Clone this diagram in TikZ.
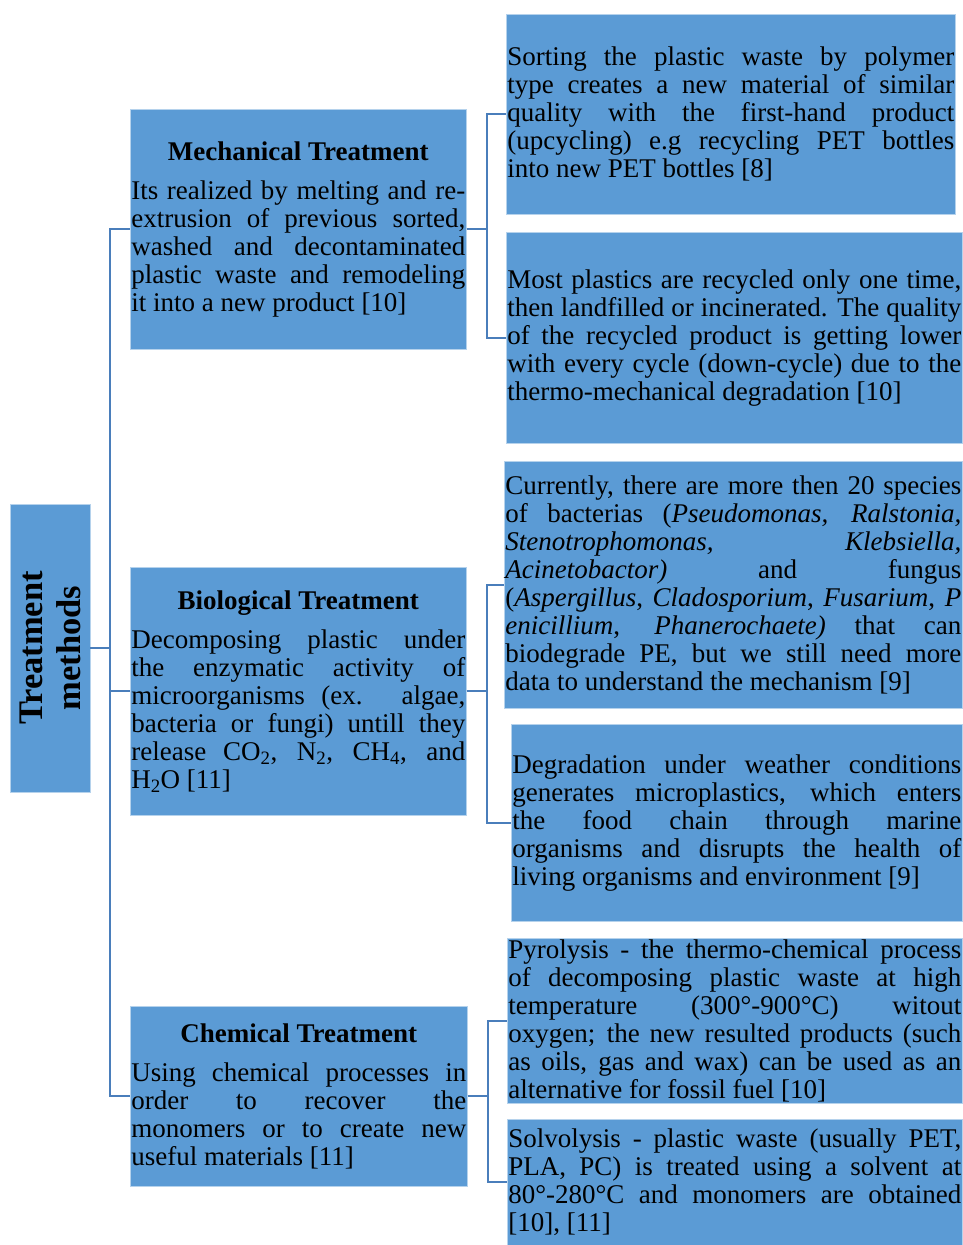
\documentclass[tikz,border=0pt]{standalone}
\usepackage{fontspec}
\setmainfont{Liberation Serif}
\usetikzlibrary{positioning}
\definecolor{boxblue}{RGB}{91,155,213}
\definecolor{lineblue}{RGB}{74,126,187}
\setlength{\parindent}{0pt}
\hyphenpenalty=10000
\tolerance=9999
\hbadness=10000

\newcommand{\trtitle}[1]{{\centering\bfseries #1\par}\vspace{11pt}}

\begin{document}
\begin{tikzpicture}[x=1pt,y=-1pt,
	box/.style={fill=boxblue,draw=boxblue!45!white,line width=.6pt,anchor=north west,
		inner xsep=1pt,inner ysep=0pt,align=justify,font=\fontsize{27}{28}\selectfont},
	link/.style={draw=lineblue,line width=2pt}]
	\useasboundingbox (0,0) rectangle (963,1245);
	%% root
	\node[box,anchor=center,rotate=90,align=center,minimum width=288pt,minimum height=80pt,
		font=\fontsize{34.5}{38}\selectfont\bfseries] (tm) at (50,648) {Treatment\\methods};
	%% left column
	\node[box,minimum width=336pt,minimum height=240pt,text width=334pt] (mt) at (130,109) {\trtitle{Mechanical Treatment}%
		Its realized by melting and re-\linebreak extrusion of previous sorted,\linebreak washed and decontaminated\linebreak plastic waste and remodeling\linebreak it into a new product [10]};
	\node[box,minimum width=336pt,minimum height=248pt,text width=334pt] (bt) at (130,567) {\trtitle{Biological Treatment}%
		Decomposing plastic under\linebreak the enzymatic activity of\linebreak microorganisms (ex. algae,\linebreak bacteria or fungi) untill they\linebreak release CO\textsubscript{2}, N\textsubscript{2}, CH\textsubscript{4}, and\linebreak H\textsubscript{2}O [11]};
	\node[box,minimum width=337pt,minimum height=180pt,text width=335pt] (ct) at (130,1006) {\trtitle{Chemical Treatment}%
		Using chemical processes in\linebreak order to recover the\linebreak monomers or to create new\linebreak useful materials [11]};
	%% right column
	\node[box,minimum width=449pt,minimum height=200pt,text width=447pt] (mt1) at (506,14) {Sorting the plastic waste by polymer\linebreak type creates a new material of similar\linebreak quality with the first-hand product\linebreak (upcycling) e.g recycling PET bottles\linebreak into new PET bottles [8]};
	\node[box,minimum width=456pt,minimum height=211pt,text width=454pt] (mt2) at (506,232) {Most plastics are recycled only one time,\linebreak then landfilled or incinerated. The quality\linebreak of the recycled product is getting lower\linebreak with every cycle (down-cycle) due to the\linebreak thermo-mechanical degradation [10]};
	\node[box,minimum width=458pt,minimum height=247pt,text width=456pt] (bt1) at (504,461) {Currently, there are more then 20 species\linebreak of bacterias (\textit{Pseudomonas, Ralstonia,}\linebreak \textit{Stenotrophomonas, Klebsiella,}\linebreak \textit{Acinetobactor)} and fungus\linebreak (\textit{Aspergillus}, \textit{Cladosporium}, \textit{Fusarium}, \textit{P}\linebreak \textit{enicillium}, \textit{Phanerochaete)} that can\linebreak biodegrade PE, but we still need more\linebreak data to understand the mechanism [9]};
	\node[box,minimum width=451pt,minimum height=197pt,text width=449pt] (bt2) at (511,724) {Degradation under weather conditions\linebreak generates microplastics, which enters\linebreak the food chain through marine\linebreak organisms and disrupts the health of\linebreak living organisms and environment [9]};
	\node[box,minimum width=455pt,minimum height=165pt,text width=453pt] (ct1) at (507,938) {Pyrolysis - the thermo-chemical process\linebreak of decomposing plastic waste at high\linebreak temperature (300°-900°C) witout\linebreak oxygen; the new resulted products (such\linebreak as oils, gas and wax) can be used as an\linebreak alternative for fossil fuel [10]};
	\node[box,minimum width=455pt,minimum height=126pt,text width=453pt] (ct2) at (507,1119) {Solvolysis - plastic waste (usually PET,\linebreak PLA, PC) is treated using a solvent at\linebreak 80°-280°C and monomers are obtained\linebreak{} [10], [11]};
	% brackets (tm is rotated, its right side is tm.south)
	\draw[link] (tm.south) -- +(20,0) |- (mt.west);
	\draw[link] (tm.south) -- +(20,0) |- (bt.west);
	\draw[link] (tm.south) -- +(20,0) |- (ct.west);
	\draw[link] (mt.east) -- +(20,0) |- (mt1.west);
	\draw[link] (mt.east) -- +(20,0) |- (mt2.west);
	\draw[link] (bt.east) -- +(20,0) |- (bt1.west);
	\draw[link] (bt.east) -- +(20,0) |- (bt2.west);
	\draw[link] (ct.east) -- +(20,0) |- (ct1.west);
	\draw[link] (ct.east) -- +(20,0) |- (ct2.west);
\end{tikzpicture}
\end{document}
